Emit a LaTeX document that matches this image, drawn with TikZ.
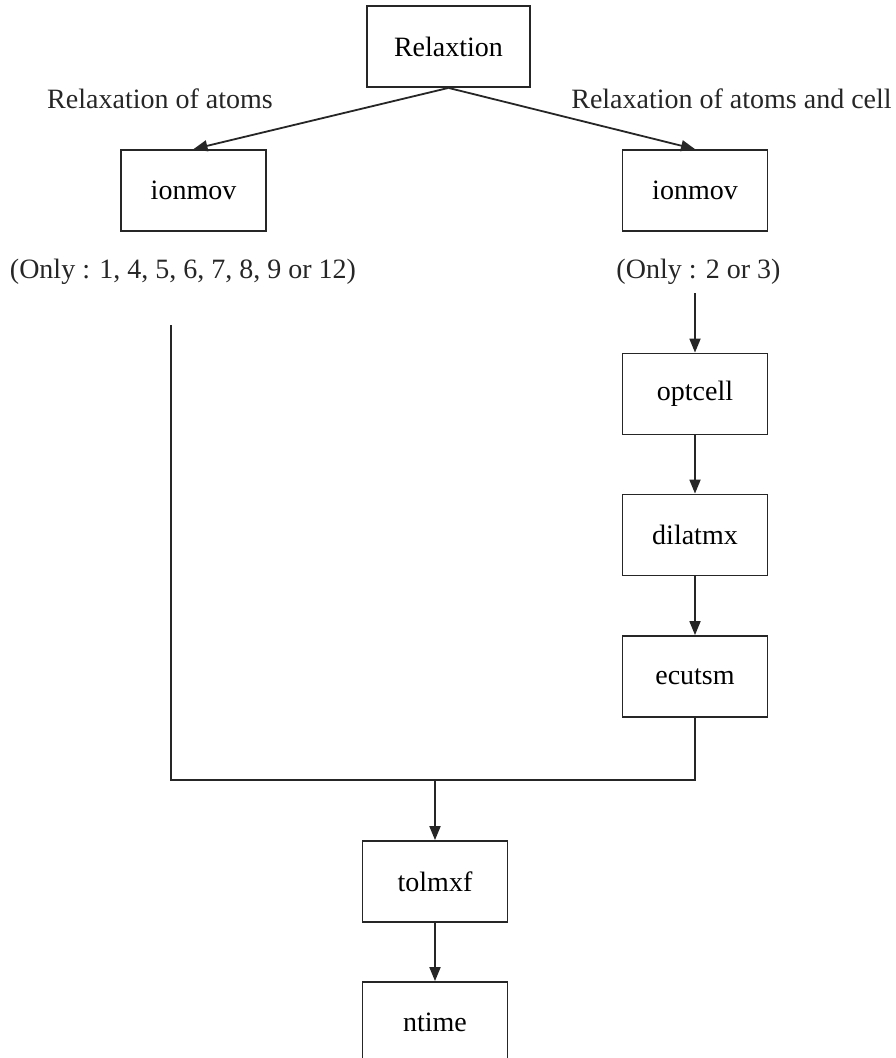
\documentclass[tikz,border=0pt]{standalone}
\usepackage{fontspec}
\setmainfont{Liberation Serif}
\usetikzlibrary{arrows.meta}
\tikzset{
  box/.style={draw=black!85, line width=1.8pt, minimum height=81pt, inner sep=0pt,
              font=\fontsize{28}{34}\selectfont},
  wbox/.style={box, minimum width=145pt},
  lbl/.style={inner sep=0pt, anchor=base, font=\fontsize{28}{34}\selectfont, text=black!85},
  link/.style={draw=black!85, line width=1.8pt},
  flow/.style={link, -{Triangle[length=14pt, width=11pt]}}
}
\begin{document}
\begin{tikzpicture}[x=1pt, y=-1pt]
  \useasboundingbox (0,0) rectangle (896,1058);

  % top node and its two branches
  \node[box, minimum width=163pt] (rel) at (448.5,46.5) {Relaxtion};
  \node[wbox] (ionL) at (193.5,190.5) {ionmov};
  \node[wbox] (ionR) at (695,190.5) {ionmov};

  \node[lbl] (labL) at (160,108) {Relaxation of atoms};
  \node[lbl] (labR) at (731.5,108) {Relaxation of atoms and cell};
  \node[lbl] (onlyL) at (183,278) {(Only : 1, 4, 5, 6, 7, 8, 9 or 12)};
  \node[lbl] (onlyR) at (698.5,278) {(Only : 2 or 3)};

  % cell-relaxation column
  \node[wbox] (opt) at (695,394) {optcell};
  \node[wbox] (dil) at (695,535) {dilatmx};
  \node[wbox] (ecu) at (695,676.5) {ecutsm};

  % common tail
  \node[wbox] (tol) at (435,881.5) {tolmxf};
  \node[wbox] (nt) at (435,1022.5) {ntime};

  \coordinate (rtop) at (695,293);
  \coordinate (ltop) at (171,325);
  \coordinate (join) at (435,780);

  \draw[flow] (rel.south) -- (ionL.north);
  \draw[flow] (rel.south) -- (ionR.north);
  \draw[flow] (rtop) -- (opt.north);
  \draw[flow] (opt.south) -- (dil.north);
  \draw[flow] (dil.south) -- (ecu.north);
  \draw[link] (ltop) -- (ltop |- join) -- (join -| ecu.south) -- (ecu.south);
  \draw[flow] (join) -- (tol.north);
  \draw[flow] (tol.south) -- (nt.north);
\end{tikzpicture}
\end{document}
